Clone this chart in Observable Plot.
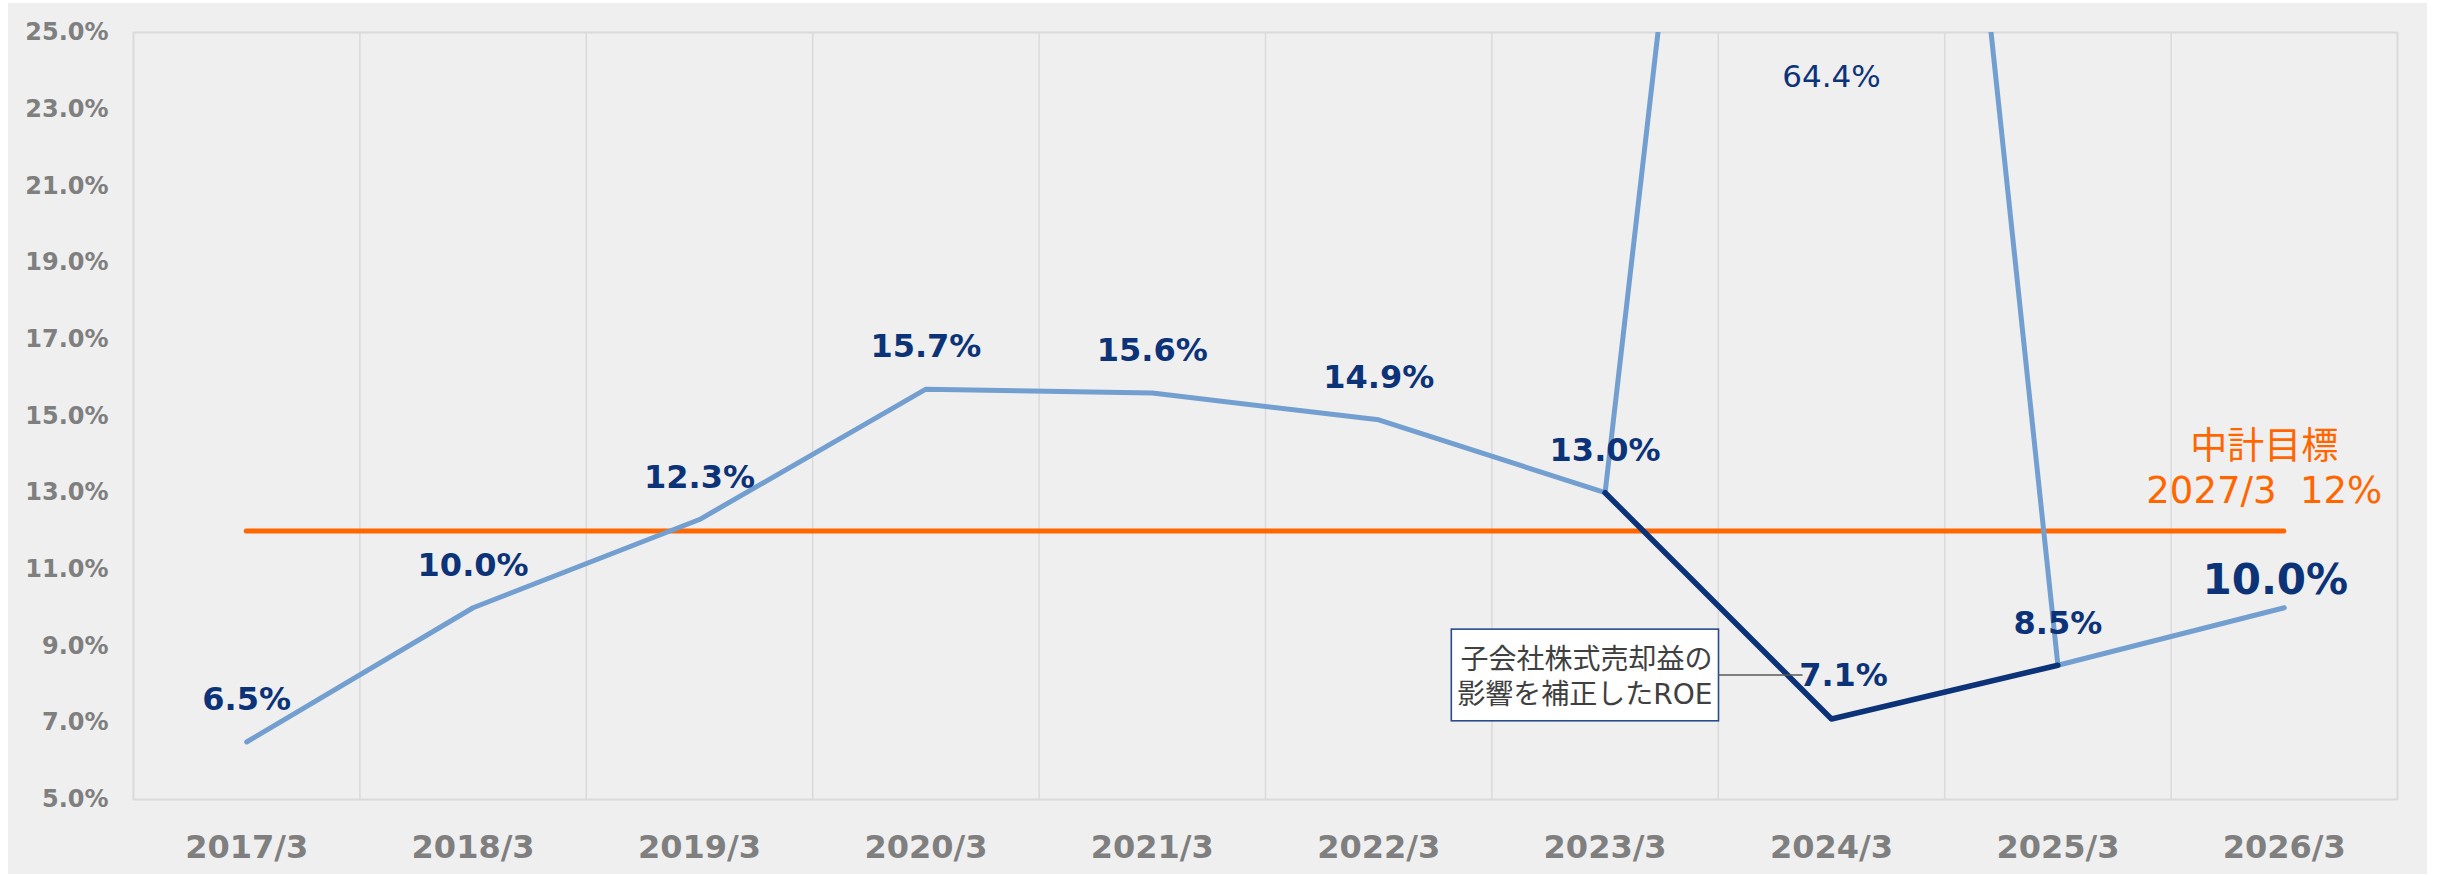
<!DOCTYPE html>
<html>
<head>
<meta charset="utf-8">
<script src="https://cdn.jsdelivr.net/npm/d3@7"></script>
<script src="https://cdn.jsdelivr.net/npm/@observablehq/plot@0.6"></script>
<style>
  html, body { margin: 0; padding: 0; background: #ffffff; }
  #wrap { position: absolute; left: 8px; top: 3px; width: 2419px; height: 871px; background: #efefef; }
  #wrap svg { display: block; }
</style>
</head>
<body>
<div id="wrap"></div>
<script>
// ---- data ----
const categories = ["2017/3", "2018/3", "2019/3", "2020/3", "2021/3", "2022/3", "2023/3", "2024/3", "2025/3", "2026/3"];
const roe = [6.5, 10.0, 12.3, 15.7, 15.6, 14.9, 13.0, 64.4, 8.5, 10.0];
const adjCategories = ["2023/3", "2024/3", "2025/3"];
const adjRoe = [13.0, 7.1, 8.5];
const targetValue = 12;
const targetLines = ["中計目標", "2027/3\u00a0\u00a012%"];
const yTicks = [5, 7, 9, 11, 13, 15, 17, 19, 21, 23, 25];
const annotationLines = ["子会社株式売却益の", "影響を補正したROE"];
const annotationCategory = "2024/3";
const annotationValue = 7.1;

// ---- colors ----
const LIGHT = "#739fd0";
const NAVY = "#0c3378";
const ORANGE = "#ff6600";
const GRAY = "#7f7f7f";
const GRID = "#dadada";
const FONT = "'DejaVu Sans', 'Noto Sans CJK JP', sans-serif";

// ---- tables ----
const idx = c => categories.indexOf(c);
const roeRows = categories.map((c, i) => ({ i, category: c, value: roe[i] }));
const adjRows = adjCategories.map((c, k) => ({ i: idx(c), category: c, value: adjRoe[k] }));
const lastI = categories.length - 1;
const outlierI = roe.findIndex(v => v > 25);
const normalLabels = roeRows.filter(d => d.i !== outlierI && d.i !== lastI && d.value <= 25);
const outlierLabels = roeRows.filter(d => d.i === outlierI);
const lastLabel = roeRows.filter(d => d.i === lastI);
const adjLowLabel = adjRows.filter(d => d.i === outlierI);
const boundaries = d3.range(categories.length - 1).map(i => i + 0.5);

const fmt = v => v.toFixed(1) + "%";

// callout text style (offsets from the anchored data point)
const CALLOUT_DX = -119, CALLOUT_DY = -44, CALLOUT_FS = 28, CALLOUT_LH = 1.28;

// Draws a framed box + leader line behind the callout text.
// The mark's group is already translated by dx/dy, so use the raw scaled anchor.
function calloutRender(index, scales, values, dimensions, context, next) {
  const g = next(index, scales, values, dimensions, context);
  const ns = "http://www.w3.org/2000/svg";
  const cx = scales.x(idx(annotationCategory));
  const cy = scales.y(annotationValue);
  const canvas = document.createElement("canvas");
  const ctx = canvas.getContext("2d");
  ctx.font = `${CALLOUT_FS}px ${FONT}`;
  const tw = Math.max(...annotationLines.map(s => ctx.measureText(s).width));
  const th = annotationLines.length * CALLOUT_FS * CALLOUT_LH;
  const px = 6, py = 10;
  const rx = cx - tw - px, rw = tw + 2 * px;
  const ry = cy - th / 2 - py, rh = th + 2 * py;
  const rect = document.createElementNS(ns, "rect");
  rect.setAttribute("x", rx); rect.setAttribute("y", ry);
  rect.setAttribute("width", rw); rect.setAttribute("height", rh);
  rect.setAttribute("fill", "#ffffff"); rect.setAttribute("stroke", "#2b4a8a"); rect.setAttribute("stroke-width", 1.6);
  const line = document.createElementNS(ns, "line");
  line.setAttribute("x1", rx + rw); line.setAttribute("x2", rx + rw + 84);
  line.setAttribute("y1", cy); line.setAttribute("y2", cy);
  line.setAttribute("stroke", "#595959"); line.setAttribute("stroke-width", 1.5);
  g.insertBefore(line, g.firstChild);
  g.insertBefore(rect, g.firstChild);
  return g;
}

const chart = Plot.plot({
  width: 2419,
  height: 871,
  marginLeft: 125,
  marginRight: 30,
  marginTop: 29,
  marginBottom: 75,
  style: { background: "transparent", fontFamily: FONT },
  x: { type: "linear", domain: [-0.5, categories.length - 0.5], label: null },
  y: { type: "linear", domain: [5, 25], label: null },
  marks: [
    Plot.ruleX(boundaries, { stroke: GRID, strokeWidth: 1.5 }),
    Plot.frame({ stroke: GRID, strokeWidth: 2 }),
    Plot.axisY(yTicks, {
      tickFormat: fmt, tickSize: 0, tickPadding: 25, label: null,
      fontSize: 24, fontWeight: "bold", color: GRAY, fontFamily: FONT
    }),
    Plot.axisX(d3.range(categories.length), {
      tickFormat: i => categories[i], tickSize: 0, tickPadding: 36, label: null,
      fontSize: 32, fontWeight: "bold", color: GRAY, fontFamily: FONT
    }),
    // target line
    Plot.ruleY([targetValue], { x1: () => 0, x2: () => lastI, stroke: ORANGE, strokeWidth: 5, strokeLinecap: "round" }),
    Plot.text([targetLines.join("\n")], {
      x: () => lastI, y: () => targetValue, text: d => d,
      dx: -20, dy: -28, lineAnchor: "bottom", lineHeight: 1.18,
      fill: ORANGE, fontSize: 37, fontFamily: FONT
    }),
    // ROE line (clipped)
    Plot.line(roeRows, { x: "i", y: "value", stroke: LIGHT, strokeWidth: 5, strokeLinecap: "round", strokeLinejoin: "round", clip: true }),
    // adjusted ROE line
    Plot.line(adjRows, { x: "i", y: "value", stroke: NAVY, strokeWidth: 5.5, strokeLinecap: "round", strokeLinejoin: "round" }),
    // annotation callout
    Plot.text([annotationLines.join("\n")], {
      x: () => idx(annotationCategory), y: () => annotationValue, text: d => d,
      textAnchor: "end", dx: CALLOUT_DX, dy: CALLOUT_DY, lineAnchor: "middle", lineHeight: CALLOUT_LH,
      fill: "#404040", fontSize: CALLOUT_FS, fontFamily: FONT,
      render: calloutRender
    }),
    // labels
    Plot.text(normalLabels, { x: "i", y: "value", text: d => fmt(d.value), dy: -42, fill: NAVY, fontSize: 32, fontWeight: "bold", fontFamily: FONT }),
    Plot.text(adjLowLabel, { x: "i", y: "value", text: d => fmt(d.value), dx: 12, dy: -43, fill: NAVY, fontSize: 32, fontWeight: "bold", fontFamily: FONT }),
    Plot.text(outlierLabels, { x: "i", frameAnchor: "top", lineAnchor: "middle", text: d => fmt(d.value), dx: 0, dy: 45, fill: NAVY, fontSize: 31, fontFamily: FONT }),
    Plot.text(lastLabel, { x: "i", y: "value", text: d => fmt(d.value), dx: -9, dy: -27, fill: NAVY, fontSize: 42, fontWeight: "bold", fontFamily: FONT })
  ]
});
document.getElementById("wrap").appendChild(chart);
</script>
</body>
</html>
